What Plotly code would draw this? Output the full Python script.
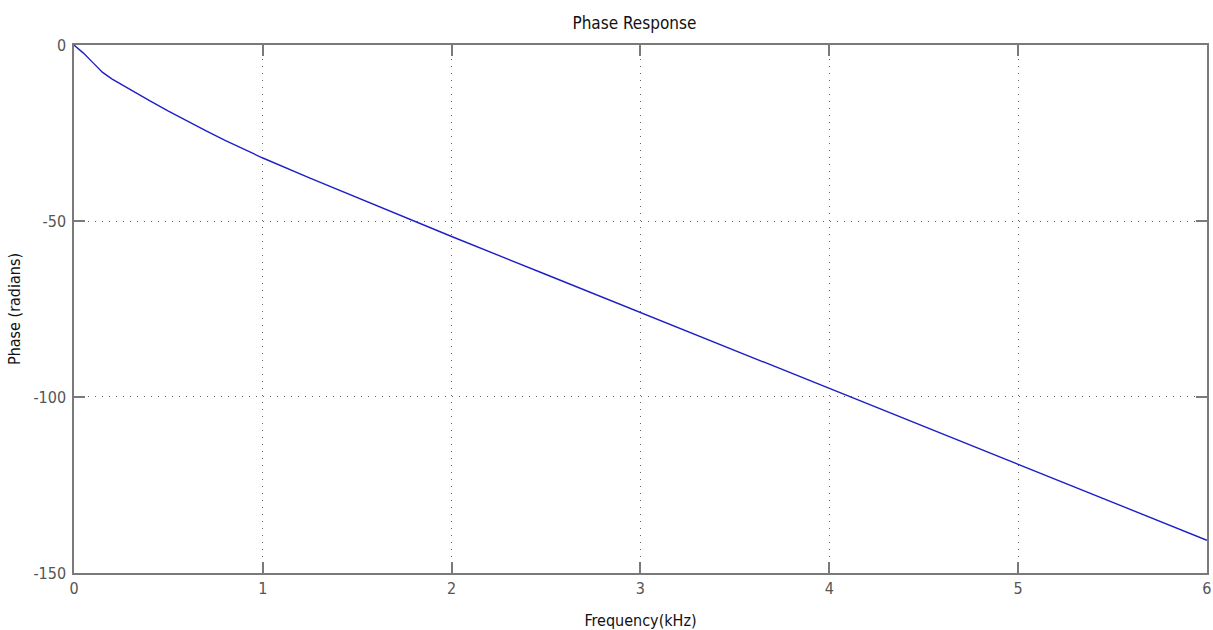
import plotly.graph_objects as go

# Data
freq_khz = [0, 0.05, 0.1, 0.15, 0.2, 0.3, 0.4, 0.5, 0.6, 0.7, 0.8, 0.9, 1.0,
            1.25, 1.5, 1.75, 2.0, 2.5, 3.0, 3.5, 4.0, 4.5, 5.0, 5.5, 6.0]
phase_rad = [0, -2.3, -5.0, -7.7, -9.6, -12.8, -15.8, -18.8, -21.7, -24.4, -27.1, -29.7, -32.1,
             -37.8, -43.4, -48.9, -54.4, -65.2, -76.0, -86.8, -97.6, -108.4, -119.2, -130.0, -140.7]
x_ticks = [0, 1, 2, 3, 4, 5, 6]
y_ticks = [0, -50, -100, -150]

FONT = "DejaVu Sans Condensed, Liberation Sans Narrow, Arial Narrow, Liberation Sans, sans-serif"

fig = go.Figure()
fig.add_trace(go.Scatter(x=freq_khz, y=phase_rad, mode="lines",
                         line=dict(color="#1f1fc8", width=1.4), showlegend=False))

axis_common = dict(
    showline=True, linecolor="#7a7a7a", linewidth=1.5, mirror="ticks",
    ticks="inside", ticklen=11, tickcolor="#7a7a7a", tickwidth=1.5,
    showgrid=True, gridcolor="#666666", griddash="1px,6px", gridwidth=1.3,
    zeroline=False, automargin=False,
    tickfont=dict(family=FONT, size=16, color="#555555"),
)

fig.update_layout(
    width=1213, height=630,
    margin=dict(l=74, r=6, t=45, b=57),
    paper_bgcolor="white", plot_bgcolor="white",
    title=dict(text="Phase Response", x=0.523, xanchor="center", y=0.963, yanchor="middle",
               font=dict(family=FONT, size=17, color="#111111")),
    xaxis=dict(range=[0, 6.0005], tickvals=x_ticks, ticktext=[str(v) for v in x_ticks],
               title=dict(text="Frequency(kHz)", standoff=18,
                          font=dict(family=FONT, size=16, color="#111111")),
               **axis_common),
    yaxis=dict(range=[-150.01, 0.01], tickvals=y_ticks, ticktext=[str(v) for v in y_ticks],
               ticklabelstandoff=3,
               title=dict(text="Phase (radians)", standoff=9,
                          font=dict(family=FONT, size=16, color="#111111")),
               **axis_common),
)

fig.write_html("out.html", config={"displayModeBar": False},
               post_script="document.body.style.margin='0px';")
